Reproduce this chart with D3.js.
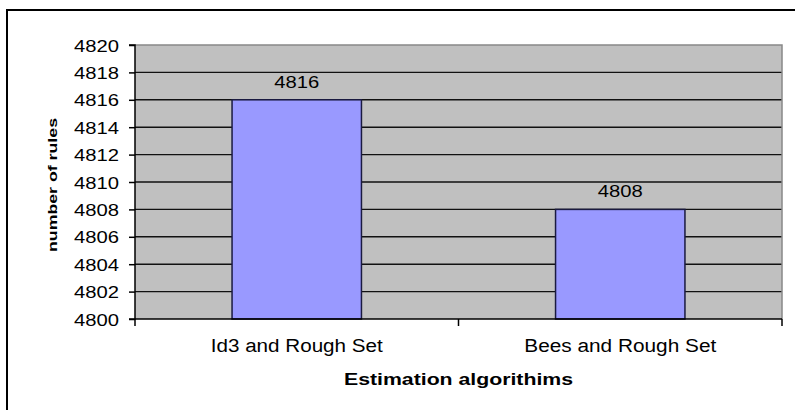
<!DOCTYPE html>
<html>
<head>
<meta charset="utf-8">
<script src="https://cdn.jsdelivr.net/npm/d3@7"></script>
<style>
  html, body { margin: 0; padding: 0; background: #fff; }
  svg { display: block; }
  text { font-family: "Liberation Sans", Arial, sans-serif; fill: #000; }
</style>
</head>
<body>
<svg id="chart" width="795" height="410"></svg>
<script>
// Number of rules produced by each estimation approach
const categories = ["Id3 and Rough Set", "Bees and Rough Set"];
const ruleCounts = [4816, 4808];
const yTicks = [4800, 4802, 4804, 4806, 4808, 4810, 4812, 4814, 4816, 4818, 4820];
const yTitle = "number of rules";
const xTitle = "Estimation algorithims";

const svg = d3.select("#chart");
const plot = { left: 135, top: 45, right: 782, bottom: 319 };

// Outer chart frame (extends past the right and bottom edges)
svg.append("rect")
  .attr("x", 7).attr("y", 10)
  .attr("width", 800).attr("height", 420)
  .attr("fill", "#fff").attr("stroke", "#000").attr("stroke-width", 2);

const x = d3.scaleBand()
  .domain(categories)
  .range([plot.left, plot.right])
  .padding(0);

const y = d3.scaleLinear()
  .domain([d3.min(yTicks), d3.max(yTicks)])
  .range([plot.bottom, plot.top]);

// Plot area background
svg.append("rect")
  .attr("x", plot.left).attr("y", plot.top)
  .attr("width", plot.right - plot.left).attr("height", plot.bottom - plot.top)
  .attr("fill", "#c0c0c0");

// Horizontal gridlines
svg.append("g")
  .selectAll("line")
  .data(yTicks.filter(t => t !== d3.min(yTicks) && t !== d3.max(yTicks)))
  .join("line")
  .attr("x1", plot.left).attr("x2", plot.right)
  .attr("y1", d => y(d)).attr("y2", d => y(d))
  .attr("stroke", "#111").attr("stroke-width", 1.4);

// Top and right plot border
svg.append("path")
  .attr("d", `M${plot.left},${plot.top}H${plot.right}V${plot.bottom}`)
  .attr("fill", "none").attr("stroke", "#888").attr("stroke-width", 1.5);

// Bars: Excel-style gap width of 150%
const barW = x.bandwidth() / 2.5;
svg.append("g")
  .selectAll("rect")
  .data(categories)
  .join("rect")
  .attr("x", (d) => x(d) + (x.bandwidth() - barW) / 2)
  .attr("y", (d, i) => y(ruleCounts[i]))
  .attr("width", barW)
  .attr("height", (d, i) => y.range()[0] - y(ruleCounts[i]))
  .attr("fill", "#9999ff")
  .attr("stroke", "#1a1a40").attr("stroke-width", 1.5);

// Value labels above bars
svg.append("g")
  .selectAll("text")
  .data(categories)
  .join("text")
  .attr("x", d => x(d) + x.bandwidth() / 2)
  .attr("y", (d, i) => y(ruleCounts[i]) - 12)
  .attr("text-anchor", "middle")
  .attr("font-size", 17)
  .attr("textLength", 45).attr("lengthAdjust", "spacingAndGlyphs")
  .text((d, i) => ruleCounts[i]);

// Y axis
const yAxis = d3.axisLeft(y).tickValues(yTicks).tickSize(6).tickPadding(10).tickFormat(d3.format("d"));
const gy = svg.append("g")
  .attr("transform", `translate(${plot.left},0)`)
  .call(yAxis);
gy.select(".domain").attr("stroke", "#000").attr("stroke-width", 1.5).attr("d", `M-6,${plot.top}H0V${plot.bottom}H-6`);
gy.selectAll(".tick line").attr("stroke", "#000").attr("stroke-width", 1.5);
gy.selectAll(".tick text")
  .attr("font-family", "Liberation Sans, Arial, sans-serif")
  .attr("font-size", 17)
  .attr("dy", "0.36em")
  .attr("textLength", 45).attr("lengthAdjust", "spacingAndGlyphs")
  .attr("fill", "#000");

// X axis: ticks at category boundaries
svg.append("line")
  .attr("x1", plot.left).attr("x2", plot.right)
  .attr("y1", plot.bottom).attr("y2", plot.bottom)
  .attr("stroke", "#000").attr("stroke-width", 1.5);
const boundaries = categories.map(d => x(d)).concat([x.range()[1]]);
svg.append("g")
  .selectAll("line")
  .data(boundaries)
  .join("line")
  .attr("x1", d => d).attr("x2", d => d)
  .attr("y1", plot.bottom).attr("y2", plot.bottom + 7)
  .attr("stroke", "#000").attr("stroke-width", 1.5);

// Category labels
const catLen = [172, 192];
svg.append("g")
  .selectAll("text")
  .data(categories)
  .join("text")
  .attr("x", d => x(d) + x.bandwidth() / 2)
  .attr("y", 352)
  .attr("text-anchor", "middle")
  .attr("font-size", 18)
  .attr("textLength", (d, i) => catLen[i]).attr("lengthAdjust", "spacingAndGlyphs")
  .text(d => d);

// Axis titles
svg.append("text")
  .attr("x", (plot.left + plot.right) / 2)
  .attr("y", 385)
  .attr("text-anchor", "middle")
  .attr("font-size", 16).attr("font-weight", "bold")
  .attr("textLength", 229).attr("lengthAdjust", "spacingAndGlyphs")
  .text(xTitle);

svg.append("text")
  .attr("transform", `translate(57,${(plot.top + plot.bottom) / 2 + 3}) rotate(-90)`)
  .attr("text-anchor", "middle")
  .attr("font-size", 13.5).attr("font-weight", "bold")
  .attr("textLength", 134).attr("lengthAdjust", "spacingAndGlyphs")
  .text(yTitle);
</script>
</body>
</html>
